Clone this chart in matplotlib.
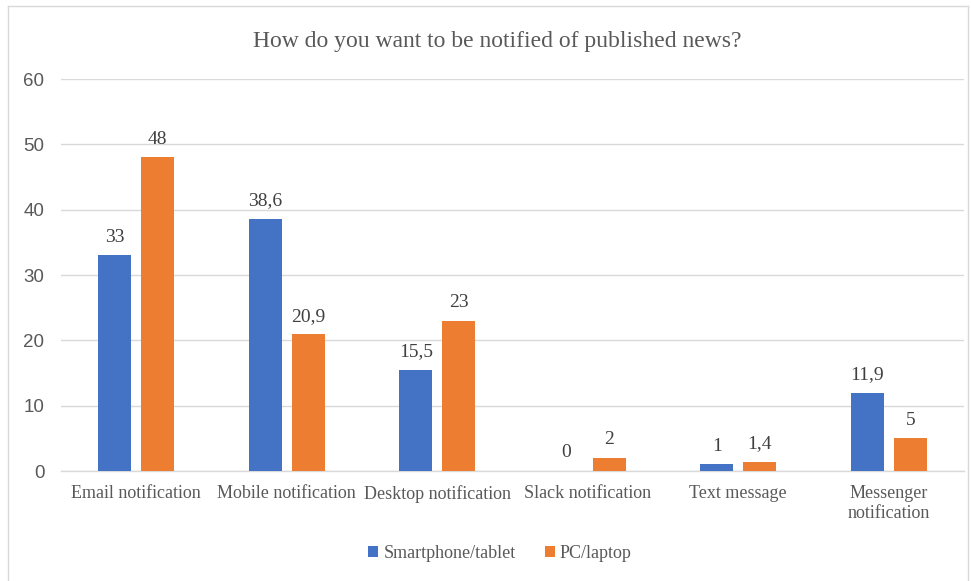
import matplotlib
matplotlib.use("Agg")
import matplotlib.pyplot as plt
import numpy as np
from matplotlib.lines import Line2D

categories = ["Email notification", "Mobile notification", "Desktop notification",
              "Slack notification", "Text message", "Messenger\nnotification"]
series_names = ["Smartphone/tablet", "PC/laptop"]
smartphone = [33, 38.6, 15.5, 0, 1, 11.9]
pc = [48, 20.9, 23, 2, 1.4, 5]
yticks = [0, 10, 20, 30, 40, 50, 60]
title = "How do you want to be notified of published news?"

blue = "#4472C4"
orange = "#ED7D31"
grid_c = "#D9D9D9"
text_c = "#595959"
serif = "Liberation Serif"
sans = "Liberation Sans"

fig = plt.figure(figsize=(9.71, 5.81), dpi=100)
ax = fig.add_axes([61/971, 1-471/581, (964-61)/971, (471-79)/581])

x = np.arange(len(categories))
w = 0.22
off = 0.143
b1 = ax.bar(x - off, smartphone, w, color=blue, label=series_names[0], zorder=3)
b2 = ax.bar(x + off, pc, w, color=orange, label=series_names[1], zorder=3)

def fmt(v):
    s = f"{v:g}"
    return s.replace(".", ",")

for bars, vals in ((b1, smartphone), (b2, pc)):
    for r, v in zip(bars, vals):
        ax.annotate(fmt(v), (r.get_x() + r.get_width()/2, v), xytext=(0, 7),
                    textcoords="offset points", ha="center", va="bottom",
                    fontsize=14, family=serif, color="#404040")

ax.set_xlim(-0.5, len(categories) - 0.5)
ax.set_ylim(0, 60)
ax.set_yticks(yticks)
ax.set_yticklabels([str(t) for t in yticks], family=sans, fontsize=13.5, color=text_c)
ax.set_xticks(x)
ax.set_xticklabels(categories, family=serif, fontsize=13, color=text_c, linespacing=1.25)
ax.tick_params(axis="both", length=0)
ax.tick_params(axis="y", pad=12)
ax.tick_params(axis="x", pad=10)
ax.yaxis.grid(True, color=grid_c, linewidth=1, zorder=0)
ax.set_axisbelow(True)
for s in ("top", "right", "left"):
    ax.spines[s].set_visible(False)
ax.spines["bottom"].set_color(grid_c)
ax.spines["bottom"].set_linewidth(1)

fig.text(497/971, 1-42/581, title, ha="center", va="center", family=serif,
         fontsize=17, color=text_c)

leg = fig.legend(handles=[b1, b2], labels=series_names, loc="center",
                 bbox_to_anchor=(500/971, 1-553/581), ncol=2, frameon=False,
                 prop={"family": serif, "size": 13}, handlelength=0.55, handleheight=0.55,
                 handletextpad=0.3, columnspacing=1.6)
for t in leg.get_texts():
    t.set_color(text_c)

# chart border
fig.add_artist(Line2D([8/971, 8/971], [0, 1-6/581], transform=fig.transFigure, color=grid_c, lw=1))
fig.add_artist(Line2D([8/971, 968/971], [1-6/581, 1-6/581], transform=fig.transFigure, color=grid_c, lw=1))
fig.add_artist(Line2D([968/971, 968/971], [0, 1-6/581], transform=fig.transFigure, color=grid_c, lw=1))

fig.savefig("out.png", dpi=100, facecolor="white")
